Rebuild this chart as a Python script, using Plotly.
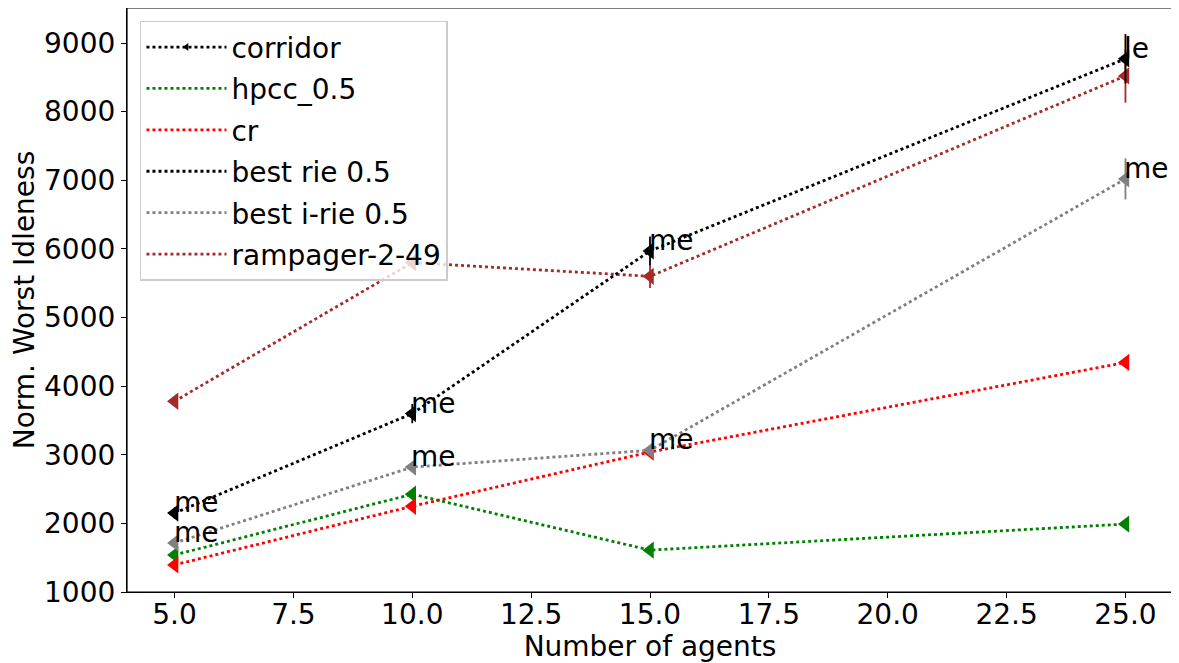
import plotly.graph_objects as go

agents = [5, 10, 15, 25]

best_rie = [2150, 3600, 5970, 8770]
best_rie_err = [80, 140, 210, 360]
hpcc = [1540, 2425, 1610, 1990]
cr = [1395, 2250, 3040, 4345]
best_irie = [1715, 2820, 3065, 7020]
best_irie_err = [40, 40, 60, 300]
rampager = [3780, 5800, 5600, 8520]
rampager_err = [30, 40, 170, 390]

legend_names = ["corridor", "hpcc_0.5", "cr", "best rie 0.5", "best i-rie 0.5", "rampager-2-49"]
legend_colors = ["black", "green", "red", "black", "gray", "brown"]

labels_rie = ["me", "me", "me", "le"]
labels_irie = ["me", "me", "me", "me"]

FONT = "DejaVu Sans"
FS = 28
fig = go.Figure()

def add_series(y, color, err=None):
    fig.add_trace(go.Scatter(
        x=agents, y=y, mode="lines+markers", showlegend=False,
        line=dict(color=color, width=2.8, dash="dot"),
        marker=dict(symbol="triangle-left", size=15, color=color),
        error_y=dict(type="data", array=err, color=color, thickness=1.8, width=0, visible=err is not None),
    ))

add_series(hpcc, "green")
add_series(cr, "red")
add_series(best_irie, "gray", best_irie_err)
add_series(rampager, "brown", rampager_err)
add_series(best_rie, "black", best_rie_err)

for i, (name, col) in enumerate(zip(legend_names, legend_colors)):
    fig.add_trace(go.Scatter(
        x=[None], y=[None], name=name, legendgroup=str(i),
        mode="lines+markers" if i == 0 else "lines",
        line=dict(color=col, width=2.8, dash="dot"),
        marker=dict(symbol="triangle-left", size=7, color=col),
    ))

for xs, ys, labs in [(agents, best_rie, labels_rie), (agents, best_irie, labels_irie)]:
    for x, y, t in zip(xs, ys, labs):
        fig.add_annotation(x=x, y=y, text=t, showarrow=False, xanchor="left", yanchor="bottom",
                           yshift=-8, xshift=-3, font=dict(family=FONT, size=FS, color="black"))

# axes frame
fig.add_shape(type="rect", xref="paper", yref="paper", x0=0, y0=0, x1=1, y1=1,
              line=dict(color="black", width=1.2), layer="above")

fig.update_layout(
    width=1171, height=655,
    margin=dict(l=119, r=6, t=0, b=71),
    plot_bgcolor="white", paper_bgcolor="white",
    font=dict(family=FONT, size=FS, color="black"),
    legend=dict(x=0.0124, y=0.978, xanchor="left", yanchor="top",
                bgcolor="rgba(255,255,255,0.8)", bordercolor="#cccccc", borderwidth=1.5,
                tracegroupgap=2, itemwidth=80, font=dict(family=FONT, size=FS)),
)
fig.update_xaxes(range=[4, 26], tickvals=[5, 7.5, 10, 12.5, 15, 17.5, 20, 22.5, 25],
                 ticktext=["5.0", "7.5", "10.0", "12.5", "15.0", "17.5", "20.0", "22.5", "25.0"],
                 showgrid=False, zeroline=False, showline=True, linecolor="black", linewidth=1.2,
                 ticks="outside", ticklen=5, tickcolor="black", ticklabelstandoff=-8,
                 title=dict(text="Number of agents", font=dict(size=FS), standoff=0))
fig.update_yaxes(range=[1000, 9510], tickvals=list(range(1000, 9001, 1000)),
                 showgrid=False, zeroline=False, showline=True, linecolor="black", linewidth=1.2,
                 ticks="outside", ticklen=5, tickcolor="black",
                 title=dict(text="Norm. Worst Idleness", font=dict(size=FS), standoff=6))

fig.write_html("out.html")
